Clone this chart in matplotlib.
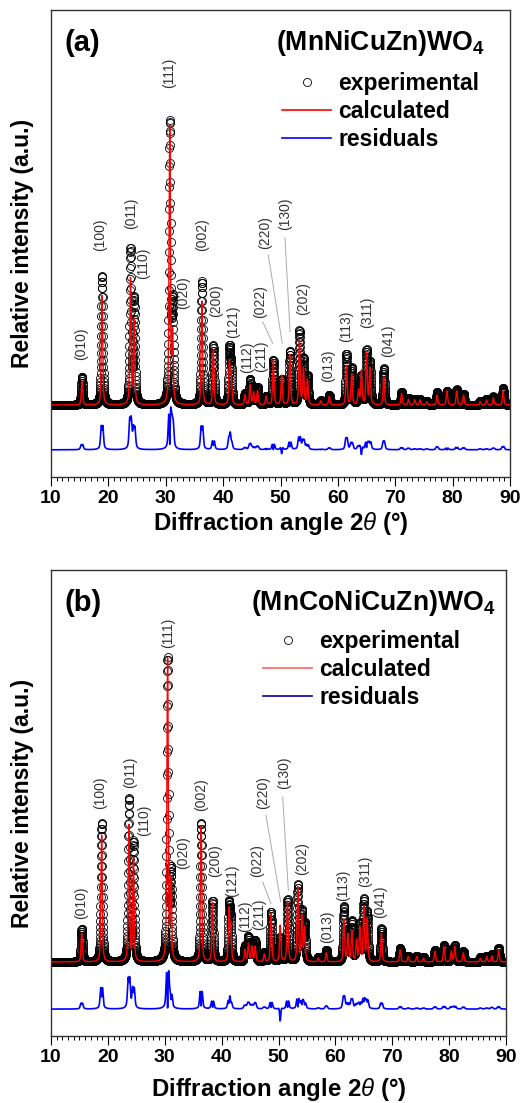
import numpy as np
import matplotlib
import matplotlib.pyplot as plt
from matplotlib.lines import Line2D

# 确保使用 'Agg' 后端
matplotlib.use('Agg')

plt.rcParams['font.family'] = ['Liberation Sans', 'DejaVu Sans']
plt.rcParams['mathtext.fontset'] = 'custom'
plt.rcParams['mathtext.rm'] = 'Liberation Sans'
plt.rcParams['mathtext.it'] = 'Liberation Sans:italic'
plt.rcParams['mathtext.bf'] = 'Liberation Sans:bold'

# ---- peaks (2theta, height of circles, height of red fit) ----
# panel (a) (MnNiCuZn)WO4
pos_a = [15.4, 18.9, 23.85, 24.5, 30.7, 31.2, 36.3, 38.3, 41.1, 41.4, 43.8, 44.7, 45.3, 46.0,
         47.5, 48.75, 50.2, 51.65, 53.3, 54.0, 54.7, 57.0, 58.5, 61.5, 62.4, 63.6, 64.1, 65.0,
         65.6, 68.0, 71.1, 72.3, 73.4, 74.3, 75.5, 77.3, 79.0, 80.7, 81.9, 84.8, 85.9, 87.1, 88.8]
exp_a = [0.10, 0.46, 0.55, 0.37, 1.00, 0.34, 0.44, 0.21, 0.19, 0.12, 0.04, 0.09, 0.05, 0.06,
         0.03, 0.16, 0.09, 0.19, 0.26, 0.16, 0.10, 0.015, 0.035, 0.18, 0.13, 0.06, 0.10, 0.19,
         0.15, 0.13, 0.045, 0.025, 0.02, 0.02, 0.015, 0.045, 0.05, 0.055, 0.04, 0.015, 0.02, 0.03, 0.06]
calc_a = [0.085, 0.39, 0.45, 0.30, 0.99, 0.24, 0.37, 0.195, 0.15, 0.10, 0.035, 0.07, 0.045, 0.05,
          0.03, 0.16, 0.105, 0.18, 0.23, 0.13, 0.09, 0.015, 0.03, 0.14, 0.11, 0.05, 0.12, 0.185,
          0.13, 0.10, 0.04, 0.02, 0.018, 0.018, 0.012, 0.035, 0.05, 0.05, 0.035, 0.012, 0.018, 0.025, 0.05]

# panel (b) (MnCoNiCuZn)WO4
pos_b = [15.4, 18.9, 23.7, 24.5, 30.5, 31.1, 36.4, 38.4, 41.3, 41.6, 44.1, 44.7, 45.3, 45.9,
         47.5, 48.7, 50.3, 51.6, 53.4, 54.1, 54.6, 57.0, 58.4, 61.5, 62.2, 62.9, 63.7, 64.3,
         65.0, 65.6, 68.1, 71.4, 72.8, 74.3, 75.5, 77.5, 79.1, 80.4, 81.0, 82.5, 85.5, 86.6, 87.5, 88.7]
exp_b = [0.11, 0.46, 0.535, 0.39, 1.00, 0.28, 0.46, 0.20, 0.18, 0.12, 0.05, 0.08, 0.06, 0.07,
         0.03, 0.165, 0.08, 0.205, 0.25, 0.16, 0.12, 0.015, 0.04, 0.18, 0.10, 0.13, 0.08, 0.12,
         0.20, 0.16, 0.11, 0.045, 0.02, 0.02, 0.015, 0.04, 0.055, 0.04, 0.055, 0.035, 0.015, 0.02, 0.025, 0.045]
calc_b = [0.095, 0.42, 0.45, 0.34, 1.00, 0.26, 0.45, 0.195, 0.17, 0.11, 0.04, 0.06, 0.05, 0.05,
          0.025, 0.16, 0.12, 0.20, 0.245, 0.15, 0.11, 0.012, 0.03, 0.14, 0.09, 0.10, 0.07, 0.11,
          0.18, 0.14, 0.095, 0.04, 0.018, 0.018, 0.012, 0.035, 0.05, 0.035, 0.05, 0.03, 0.012, 0.018, 0.02, 0.04]

# ---- Miller index labels ----
hkl = ['(010)', '(100)', '(011)', '(110)', '(111)', '(020)', '(002)', '(200)', '(121)', '(112)',
       '(211)', '(022)', '(220)', '(130)', '(202)', '(013)', '(113)', '(311)', '(041)']
lab_x_a = [15.23, 18.54, 23.89, 26.03, 30.57, 32.95, 36.27, 38.76, 41.72, 44.11,
           46.55, 46.43, 47.3, 50.78, 53.87, 58.28, 61.36, 65.02, 68.68]
lab_y_a = [0.218, 0.607, 0.686, 0.507, 1.186, 0.40, 0.607, 0.371, 0.296, 0.171,
           0.175, 0.368, 0.614, 0.682, 0.379, 0.139, 0.282, 0.332, 0.229]
lab_x_b = [15.27, 18.62, 23.89, 26.35, 30.52, 33.15, 36.37, 38.84, 41.77, 44.11,
           46.57, 46.28, 47.33, 50.97, 54.08, 58.47, 61.4, 65.2, 67.85]
lab_y_b = [0.195, 0.562, 0.628, 0.47, 1.09, 0.363, 0.555, 0.337, 0.27, 0.151,
           0.158, 0.337, 0.562, 0.628, 0.343, 0.118, 0.254, 0.30, 0.20]
# leader lines for (022), (220), (130): x0, y0, x1, y1
lead_a = [(46.9, 0.297, 48.64, 0.22), (47.87, 0.536, 50.31, 0.22), (50.78, 0.596, 51.66, 0.262)]
lead_b = [(47.22, 0.265, 48.68, 0.193), (47.8, 0.486, 50.39, 0.199), (50.74, 0.546, 51.73, 0.237)]

tt = np.arange(10, 90.001, 0.02)


def profile(x, pos, h, fwhm):
    y = np.zeros_like(x)
    for p, a in zip(pos, h):
        d = (x - p) / (fwhm / 2)
        y += a * (0.5 / (1 + d ** 2) + 0.5 * np.exp(-np.log(2) * d ** 2))
    return y


def panel(ax, pos, hexp, hcalc, labx, laby, lead, tag, title, title_x, ylim, off, leg_xy,
          calc_c, res_c, xl_y):
    y_exp = profile(tt, pos, hexp, 0.34)
    y_calc = profile(tt, pos, hcalc, 0.28)
    res = y_exp - y_calc + off

    ax.plot(tt, y_exp, 'o', mfc='none', mec='black', ms=5.8, mew=0.6, zorder=2)
    ax.plot(tt, y_calc, color='red', lw=1.0, zorder=3)
    ax.plot(tt, res, color='blue', lw=1.2, zorder=3)

    for s, x, y in zip(hkl, labx, laby):
        ax.text(x, y, s, rotation=90, ha='center', va='center', fontsize=10, color='#333333')
    for x0, y0, x1, y1 in lead:
        ax.plot([x0, x1], [y0, y1], color='#aaaaaa', lw=0.7)

    ax.text(0.03, 0.93, tag, transform=ax.transAxes, fontsize=21, fontweight='bold', va='center')
    ax.text(title_x, 0.93, title, transform=ax.transAxes, fontsize=19.2, fontweight='bold',
            va='center', ha='right')

    handles = [Line2D([], [], ls='none', marker='o', mfc='none', mec='black', ms=5.8, mew=0.6),
               Line2D([], [], color=calc_c, lw=1.2),
               Line2D([], [], color=res_c, lw=1.2)]
    ax.legend(handles, ['experimental', 'calculated', 'residuals'], loc='upper left',
              bbox_to_anchor=leg_xy, frameon=False, borderpad=0, borderaxespad=0,
              handlelength=2.15, handletextpad=0.3, labelspacing=0.22, numpoints=1,
              prop={'weight': 'bold', 'size': 16.5})

    ax.set_xlim(10, 90)
    ax.set_ylim(*ylim)
    ax.set_yticks([])
    ax.set_xticks(np.arange(10, 91, 10))
    ax.set_xticks(np.arange(10, 91, 1), minor=True)
    ax.tick_params(axis='x', which='major', length=6.5, width=0.8, direction='out', pad=3,
                   labelsize=14)
    ax.tick_params(axis='x', which='minor', length=3, width=0.7, direction='out')
    for lab in ax.get_xticklabels():
        lab.set_fontweight('bold')
    for sp in ax.spines.values():
        sp.set_color('#333333')
        sp.set_linewidth(1.0)
    ax.set_xlabel(r'Diffraction angle 2$\mathit{\theta}$ (°)', fontsize=17.3, fontweight='bold')
    ax.set_ylabel('Relative intensity (a.u.)', fontsize=16.5, fontweight='bold')
    ax.xaxis.set_label_coords(0.5, xl_y)
    ax.yaxis.set_label_coords(-0.037, 0.5)


W, H = 523, 1103
fig = plt.figure(figsize=(W / 100, H / 100), dpi=100)
ax1 = fig.add_axes([51 / W, (H - 477) / H, 459 / W, 467 / H])
ax2 = fig.add_axes([51 / W, (H - 1036) / H, 455 / W, 466 / H])

panel(ax1, pos_a, exp_a, calc_a, lab_x_a, lab_y_a, lead_a, '(a)', r'(MnNiCuZn)WO$_\mathbf{4}$', 0.945,
      (-0.257, 1.41), -0.16, (0.503, 0.868), 'red', 'blue', -0.07)
panel(ax2, pos_b, exp_b, calc_b, lab_x_b, lab_y_b, lead_b, '(b)', r'(MnCoNiCuZn)WO$_\mathbf{4}$', 0.978,
      (-0.245, 1.298), -0.156, (0.466, 0.872), '#ff6666', '#000099', -0.086)

fig.savefig('out.png', dpi=100)
plt.close()
